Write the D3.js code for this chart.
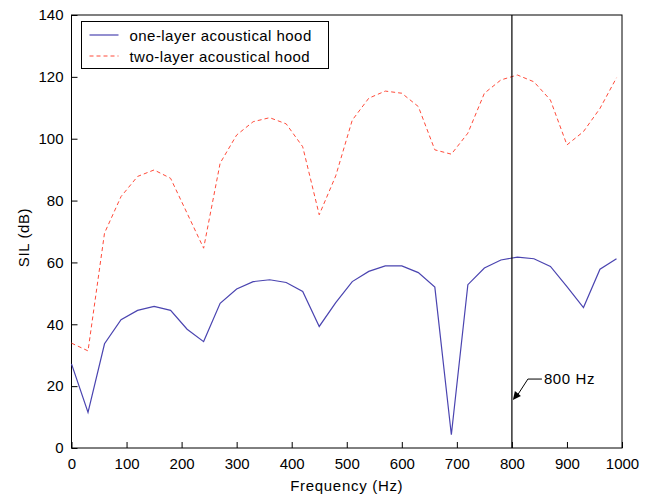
<!DOCTYPE html>
<html>
<head>
<meta charset="utf-8">
<script src="https://cdn.jsdelivr.net/npm/d3@7"></script>
<style>
  body { margin: 0; background: #fff; }
  svg { display: block; font-family: "Liberation Sans", Arial, sans-serif; }
</style>
</head>
<body>
<svg id="chart" width="648" height="495"></svg>
<script>
// frequency points (Hz)
const freq = [0, 30, 60, 90, 120, 150, 180, 210, 240, 270, 300, 330, 360, 390, 420, 450, 480,
  510, 540, 570, 600, 630, 660, 690, 720, 750, 780, 810, 840, 870, 900, 930, 960, 990];
// SIL, one-layer hood
const oneLayer = [27.2, 11.5, 33.7, 41.5, 44.5, 45.8, 44.5, 38.4, 34.4, 46.8, 51.4, 53.8, 54.4, 53.5, 50.6, 39.3, 47.0,
  53.8, 57.1, 58.9, 58.9, 56.7, 52.0, 4.3, 52.8, 58.2, 60.8, 61.7, 61.2, 58.7, 52.2, 45.4, 57.8, 61.2];
// SIL, two-layer hood
const twoLayer = [33.9, 31.4, 69.5, 81.3, 87.8, 89.9, 87.2, 75.9, 64.6, 92.1, 101.2, 105.5, 106.8, 104.8, 97.4, 75.4, 88.0,
  106.0, 113.1, 115.4, 114.7, 110.4, 96.4, 95.0, 101.8, 114.7, 119.0, 120.6, 118.4, 112.5, 98.0, 102.3, 109.8, 119.7];
const xTicks = [0, 100, 200, 300, 400, 500, 600, 700, 800, 900, 1000];
const yTicks = [0, 20, 40, 60, 80, 100, 120, 140];
const seriesNames = ["one-layer acoustical hood", "two-layer acoustical hood"];
const markFreq = 800;

const margin = { top: 15, right: 26, bottom: 47, left: 71.5 };
const width = 648 - margin.left - margin.right;
const height = 495 - margin.top - margin.bottom;

const svg = d3.select("#chart")
  .append("g")
  .attr("transform", "translate(" + margin.left + "," + margin.top + ")");

const x = d3.scaleLinear().domain([0, 1000]).range([0, width]);
const y = d3.scaleLinear().domain([0, 140]).range([height, 0]);

// axes, ticks pointing inward
const xAxis = svg.append("g")
  .attr("transform", "translate(0," + height + ")")
  .call(d3.axisBottom(x).tickValues(xTicks).tickSize(-6).tickPadding(10).tickFormat(d3.format("d")));
const yAxis = svg.append("g")
  .call(d3.axisLeft(y).tickValues(yTicks).tickSize(-6).tickPadding(8).tickFormat(d3.format("d")));

[xAxis, yAxis].forEach(function (a) {
  a.select(".domain").remove();
  a.selectAll("line").attr("stroke", "#000");
  a.selectAll("text").attr("font-size", "15px").attr("fill", "#000")
    .attr("font-family", "Liberation Sans, Arial, sans-serif");
});

// box
svg.append("rect")
  .attr("x", 0).attr("y", 0)
  .attr("width", width).attr("height", height)
  .attr("fill", "none").attr("stroke", "#000").attr("stroke-width", 1);

const line = function (vals) {
  return d3.line()
    .x(function (d, i) { return x(freq[i]); })
    .y(function (d) { return y(d); })(vals);
};

svg.append("path")
  .attr("d", line(twoLayer))
  .attr("fill", "none")
  .attr("stroke", "#ff4b3a")
  .attr("stroke-width", 1)
  .attr("stroke-dasharray", "4,3");

svg.append("path")
  .attr("d", line(oneLayer))
  .attr("fill", "none")
  .attr("stroke", "#4a44b0")
  .attr("stroke-width", 1.2);

// 800 Hz marker line
svg.append("line")
  .attr("x1", x(markFreq)).attr("x2", x(markFreq))
  .attr("y1", 0).attr("y2", height)
  .attr("stroke", "#000").attr("stroke-width", 1.2);

// annotation arrow
const ax = x(markFreq) + 1, ay = y(15.5);
svg.append("path")
  .attr("d", "M" + (ax + 15) + "," + (ay - 21) + "L" + (ax + 29) + "," + (ay - 21) +
    "M" + (ax + 15) + "," + (ay - 21) + "L" + (ax + 4) + "," + (ay - 4))
  .attr("stroke", "#000").attr("fill", "none");
svg.append("path")
  .attr("d", "M" + ax + "," + ay + "L" + (ax + 2) + "," + (ay - 9) + "L" + (ax + 8) + "," + (ay - 4) + "Z")
  .attr("fill", "#000");
svg.append("text")
  .attr("x", ax + 31).attr("y", ay - 16)
  .attr("font-size", "15px")
  .attr("letter-spacing", "0.6px")
  .text(markFreq + " Hz");

// legend
const lg = svg.append("g").attr("transform", "translate(10,6.5)");
lg.append("rect")
  .attr("width", 247).attr("height", 47)
  .attr("fill", "#fff").attr("stroke", "#000");
lg.append("line").attr("x1", 8).attr("x2", 37).attr("y1", 13.5).attr("y2", 13.5)
  .attr("stroke", "#4a44b0").attr("stroke-width", 1.2);
lg.append("line").attr("x1", 8).attr("x2", 37).attr("y1", 34.5).attr("y2", 34.5)
  .attr("stroke", "#ff4b3a").attr("stroke-dasharray", "4,3");
seriesNames.forEach(function (n, i) {
  lg.append("text")
    .attr("x", 48).attr("y", 19 + i * 21)
    .attr("font-size", "15px")
    .attr("letter-spacing", "0.45px")
    .text(n);
});

// axis titles
svg.append("text")
  .attr("x", width / 2).attr("y", height + 43)
  .attr("text-anchor", "middle")
  .attr("font-size", "15px")
  .attr("letter-spacing", "0.7px")
  .text("Frequency (Hz)");

svg.append("text")
  .attr("transform", "translate(-43," + (height / 2 + 6) + ") rotate(-90)")
  .attr("text-anchor", "middle")
  .attr("font-size", "15px")
  .attr("letter-spacing", "0.6px")
  .text("SIL (dB)");
</script>
</body>
</html>
